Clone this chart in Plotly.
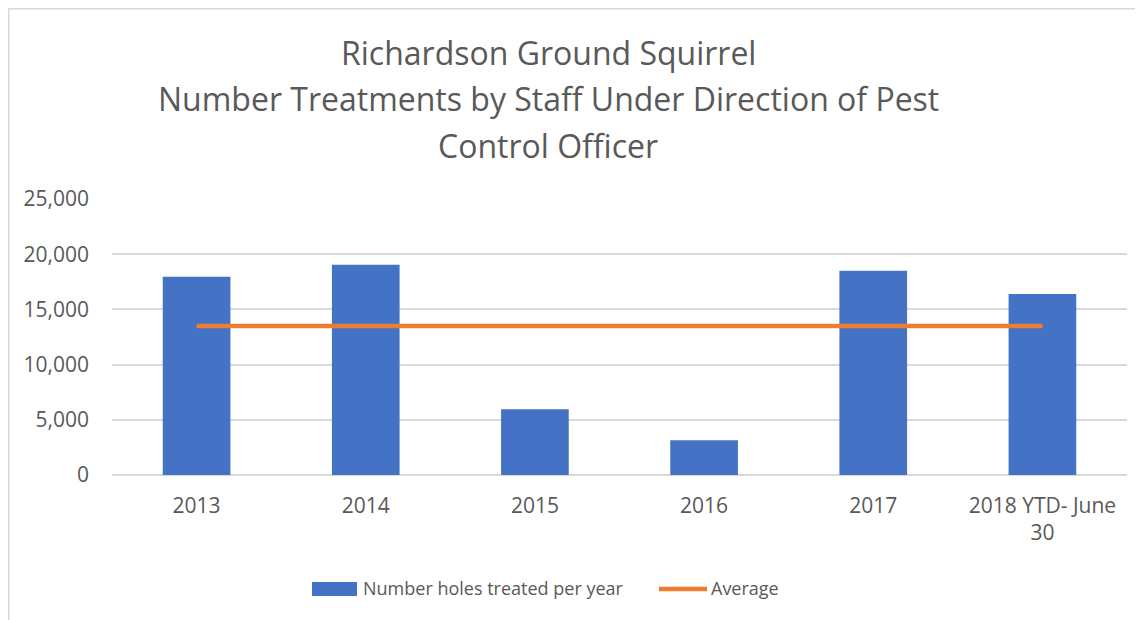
import plotly.graph_objects as go

# ---- data ----
categories = ["2013", "2014", "2015", "2016", "2017", "2018 YTD- June<br>30"]
holes_treated = [17950, 19050, 5950, 3150, 18500, 16400]
average = [13500, 13500, 13500, 13500, 13500, 13500]
y_tick_vals = [0, 5000, 10000, 15000, 20000, 25000]
y_tick_text = ["0", "5,000", "10,000", "15,000", "20,000", "25,000"]
title_lines = ["Richardson Ground Squirrel",
               "Number Treatments by Staff Under Direction of Pest",
               "Control Officer"]
legend_names = ["Number holes treated per year", "Average"]

# ---- layout geometry (page pixels; page body has an 8px margin) ----
OFF = 8
W, H = 1143 - OFF, 620 - OFF
PL, PR, PT, PB = 112, 1127, 199, 475  # plot area in page pixels
TXT = "#595959"
GRID = "#D9D9D9"
BLUE = "#4472C4"
ORANGE = "#ED7D31"
FONT = "Open Sans"


def px(x):
    return (x - PL) / (PR - PL)


def py(y):
    return (PB - y) / (PB - PT)


fig = go.Figure()
fig.add_trace(go.Bar(x=categories, y=holes_treated, name=legend_names[0],
                     marker=dict(color=BLUE, line=dict(width=0)), width=0.4))
fig.add_trace(go.Scatter(x=categories, y=average, name=legend_names[1], mode="lines",
                         line=dict(color=ORANGE, width=4.5)))

annotations = []
for line, yc in zip(title_lines, [52, 99, 145]):
    annotations.append(dict(text=line, xref="paper", yref="paper", x=px(548), y=py(yc),
                            xanchor="center", yanchor="middle", showarrow=False,
                            font=dict(family=FONT, size=32, color=TXT)))
annotations.append(dict(text=legend_names[0], xref="paper", yref="paper", x=px(361), y=py(588),
                        xanchor="left", yanchor="middle", showarrow=False,
                        font=dict(family=FONT, size=18, color=TXT)))
annotations.append(dict(text=legend_names[1], xref="paper", yref="paper", x=px(709), y=py(588),
                        xanchor="left", yanchor="middle", showarrow=False,
                        font=dict(family=FONT, size=18, color=TXT)))

shapes = [
    dict(type="rect", xref="paper", yref="paper", x0=px(8.75), x1=px(1170), y0=py(660), y1=py(8.75),
         line=dict(color=GRID, width=1.5), fillcolor="rgba(0,0,0,0)", layer="below"),
    dict(type="rect", xref="paper", yref="paper", x0=px(312), x1=px(357), y0=py(596), y1=py(582),
         line=dict(width=0), fillcolor=BLUE),
    dict(type="line", xref="paper", yref="paper", x0=px(659), x1=px(707), y0=py(589), y1=py(589),
         line=dict(color=ORANGE, width=4.5)),
]

fig.update_layout(
    width=W, height=H,
    margin=dict(l=PL - OFF, r=(W + OFF) - PR, t=PT - OFF, b=(H + OFF) - PB, pad=0),
    paper_bgcolor="white", plot_bgcolor="white",
    showlegend=False,
    bargap=0.6,
    font=dict(family=FONT, size=21, color=TXT),
    annotations=annotations,
    shapes=shapes,
    xaxis=dict(showgrid=False, showline=False, ticks="", tickfont=dict(size=21, color=TXT),
               ticklabelstandoff=16, fixedrange=True),
    yaxis=dict(range=[0, 25000], tickvals=y_tick_vals, ticktext=y_tick_text,
               showgrid=True, gridcolor=GRID, gridwidth=1.7, zeroline=True,
               zerolinecolor=GRID, zerolinewidth=1.7, showline=False, ticks="",
               tickfont=dict(size=21, color=TXT), ticklabelstandoff=22, fixedrange=True),
)

fig.write_html("out.html")
